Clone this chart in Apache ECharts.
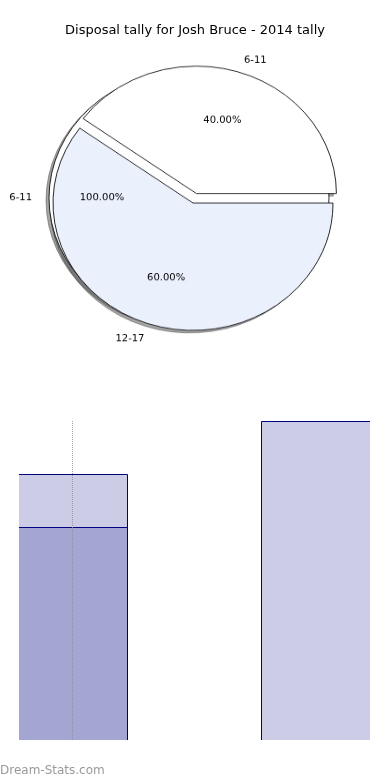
<!DOCTYPE html>
<html><head><meta charset="utf-8">
<script src="https://cdn.jsdelivr.net/npm/echarts@6/dist/echarts.min.js"></script>
<style>
html,body{margin:0;padding:0;background:#fff;}
#main{position:absolute;left:0;top:0;width:390px;height:780px;}
#pie{position:absolute;left:0;top:0;width:390px;height:420px;transform:scaleY(0.91);transform-origin:0 0;}
</style></head><body>
<div id="main"></div><div id="pie"></div>
<script>
// ---- data ----
const titleText = 'Disposal tally for Josh Bruce - 2014 tally';
const backPieNames = ['6-11'];
const backPieValues = [100];
const pieNames = ['6-11', '12-17'];
const pieValues = [40, 60];
const pieColors = ['#FFFFFF', '#EBF0FD'];
const explodedNames = ['6-11'];
const barPositions = [0, 1];
const barDark = [4, 0];
const barLight = [1, 6];
const watermark = 'Dream-Stats.com';

// ---- style ----
const FONT = 'DejaVu Sans';
const SY = 0.91;              // vertical squash of the pie drawing (ellipse)
const R = 140;
const MAIN_C = [193, 203 / SY];
const BACK_C = [189, 198 / SY];
const SHADOW_DX = -3, SHADOW_DY = 2.5 / SY;
const SHADOW_FILL = 'rgba(76,76,76,0.5)';

const pieChart = echarts.init(document.getElementById('pie'), null, {renderer: 'canvas'});

function sliceData(names, values, colors, mode) {
  return names.map((n, i) => ({
    name: n,
    value: values[i],
    selected: explodedNames.includes(n) && names.length > 1,
    itemStyle: mode === 'transparent' ? {color: 'rgba(0,0,0,0)', borderWidth: 0}
             : mode === 'shadow' ? {color: SHADOW_FILL, borderColor: SHADOW_FILL, borderWidth: 1}
             : {color: colors ? colors[i] : '#FFFFFF'}
  }));
}
function basePie(center, radius, names, values, colors, mode, offset) {
  return {
    type: 'pie', center: center, radius: radius,
    startAngle: 0, clockwise: false,
    selectedMode: 'single', selectedOffset: offset == null ? 11 : offset,
    avoidLabelOverlap: false, silent: true, animation: false,
    emphasis: {disabled: true, scale: false},
    labelLine: {show: false},
    label: {show: false},
    itemStyle: mode ? {borderWidth: 0} : {borderColor: '#111', borderWidth: 0.9},
    data: sliceData(names, values, colors, mode)
  };
}
function shadowPie(center, names, values) {
  return basePie([center[0] + SHADOW_DX, center[1] + SHADOW_DY], [0, R], names, values, null, 'shadow');
}
function pctLabels(center, names, values) {
  const s = basePie(center, [0, R * 1.2], names, values, null, 'transparent', 8);
  s.label = {show: true, position: 'inside', color: '#000', fontSize: 10, fontFamily: FONT,
    formatter: p => p.percent.toFixed(2) + '%'};
  return s;
}
function nameLabels(center, names, values) {
  const s = basePie(center, [R, R * 1.2], names, values, null, 'transparent', 8);
  s.label = {show: true, position: 'inside', color: '#000', fontSize: 10, fontFamily: FONT,
    formatter: '{b}'};
  s.labelLayout = function (p) {
    const mid = p.labelRect.x + p.labelRect.width / 2;
    return {align: mid > center[0] ? 'left' : 'right'};
  };
  return s;
}

pieChart.setOption({
  animation: false,
  series: [
    shadowPie(BACK_C, backPieNames, backPieValues),
    shadowPie(MAIN_C, pieNames, pieValues),
    basePie(BACK_C, [0, R], backPieNames, backPieValues, ['#FFFFFF']),
    basePie(MAIN_C, [0, R], pieNames, pieValues, pieColors),
    pctLabels(BACK_C, backPieNames, backPieValues),
    nameLabels(BACK_C, backPieNames, backPieValues),
    pctLabels(MAIN_C, pieNames, pieValues),
    nameLabels(MAIN_C, pieNames, pieValues)
  ]
});

// ---- bar chart + title ----
const DARK = '#A3A5D3', LIGHT = '#CCCCE6', NAVY = '#000080';
const BAR_W = 0.45;   // bar width in x units
const mainChart = echarts.init(document.getElementById('main'), null, {renderer: 'canvas'});

function renderBars(params, api) {
  const x = api.value(0), d = api.value(1), l = api.value(2);
  const w = Math.round(api.size([BAR_W, 0])[0]);
  const base = api.coord([x, 0]);
  const left = Math.round(base[0] - w / 2) + 0.5;
  const bottom = base[1] + 3;   // push bottom edge under the clip
  const children = [];
  if (d + l > 0) {
    const pT = api.coord([x, d + l]);
    const top = Math.round(pT[1]) + 0.5;
    children.push({type: 'rect', shape: {x: left, y: top, width: w, height: bottom - top},
      style: {fill: LIGHT, stroke: NAVY, lineWidth: 1}});
  }
  if (d > 0) {
    const pD = api.coord([x, d]);
    const top = Math.round(pD[1]) + 0.5;
    children.push({type: 'rect', shape: {x: left, y: top, width: w, height: bottom - top},
      style: {fill: DARK, stroke: NAVY, lineWidth: 1}});
  }
  return {type: 'group', children: children};
}

mainChart.setOption({
  animation: false,
  title: {text: titleText, left: 'center', top: 24, padding: 0,
    textStyle: {fontSize: 13, fontWeight: 'normal', color: '#000', fontFamily: FONT}},
  grid: {left: 19, right: 20, top: 420, bottom: 40, containLabel: false},
  xAxis: {type: 'value', min: -0.217, max: 1.221, show: false},
  yAxis: {type: 'value', min: 0, max: 6.02, show: false},
  graphic: [{type: 'text', left: 0, top: 765,
    style: {text: watermark, fill: '#999', font: '12px "DejaVu Sans"'}}],
  series: [
    {type: 'custom', clip: true, silent: true, renderItem: renderBars,
      encode: {x: 0, y: 2},
      data: barPositions.map((x, i) => [x, barDark[i], barLight[i]]),
      markLine: {symbol: 'none', silent: true, label: {show: false},
        lineStyle: {type: 'dotted', color: 'rgba(140,140,140,0.8)', width: 1},
        data: [{xAxis: barPositions[0]}]}}
  ]
});
</script>
</body></html>
